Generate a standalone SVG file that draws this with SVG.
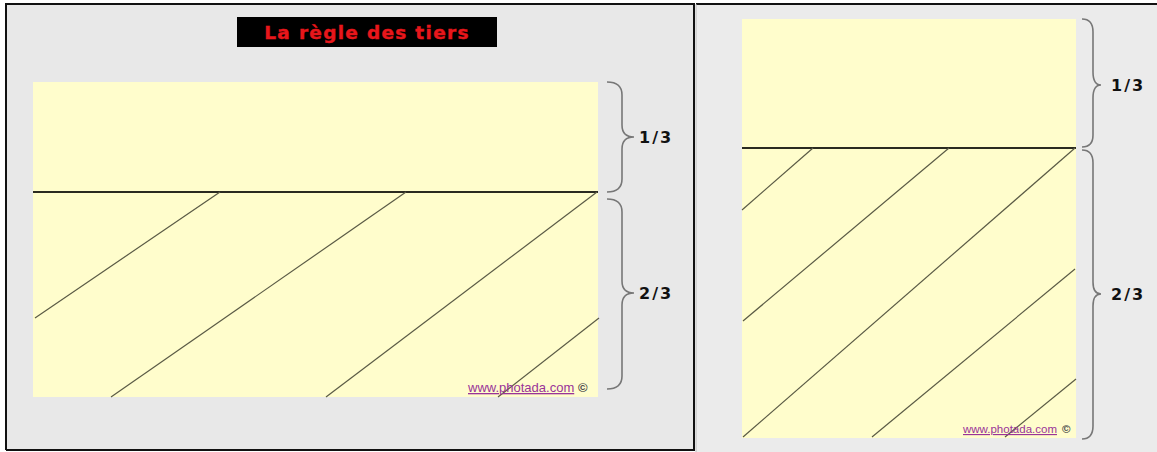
<svg xmlns="http://www.w3.org/2000/svg" width="1157" height="452" viewBox="0 0 1157 452">
<style>
.panel{fill:#e8e8e8}
.frame{fill:#fffdcc}
.rule{stroke:#2a2a20;stroke-width:2;fill:none}
.diag{stroke:#5a5a45;stroke-width:1.2;fill:none}
.brace{stroke:#777;stroke-width:1.6;fill:none}
.frac{font-family:"DejaVu Sans",Verdana,sans-serif;font-weight:bold;font-size:16px;letter-spacing:2px;fill:#111}
.wm{font-family:"Liberation Sans",Arial,sans-serif;font-size:13px;fill:#993399;text-decoration:underline}
.cp{font-family:"Liberation Sans",Arial,sans-serif;font-size:13px;font-weight:bold;fill:#444}
</style>
<rect x="0" y="0" width="1157" height="452" fill="#ffffff"/>
<g id="left-panel">
<rect class="panel" x="6" y="4" width="688" height="446"/>
<path d="M6 450 V4 H694 V450 H6" fill="none" stroke="#111" stroke-width="2"/>
</g>
<g id="right-panel">
<rect x="696" y="4" width="461" height="448" fill="#ebebeb"/>
<line x1="696" y1="4" x2="1157" y2="4" stroke="#111" stroke-width="2"/>
<line x1="696" y1="4" x2="696" y2="452" stroke="#bbb" stroke-width="1"/>
</g>
<g id="title">
<rect x="237" y="17" width="260" height="30" fill="#000"/>
<text x="367" y="39" text-anchor="middle" font-family="'DejaVu Sans',Verdana,sans-serif" font-weight="bold" font-size="18.5" letter-spacing="1.3" fill="#e8161b" stroke="#e8161b" stroke-width="0.4">La règle des tiers</text>
</g>
<g id="left-frame">
<rect class="frame" x="33" y="82" width="565" height="315"/>
<line class="rule" x1="33" y1="192" x2="598" y2="192"/>
</g>
<g id="right-frame">
<rect class="frame" x="742" y="19" width="334" height="419"/>
<line class="rule" x1="742" y1="148" x2="1076" y2="148"/>
</g>
<g id="connectors">
<line class="diag" x1="220" y1="192" x2="35" y2="318"/>
<line class="diag" x1="406" y1="192" x2="111" y2="397"/>
<line class="diag" x1="597" y1="192" x2="326" y2="397"/>
<line class="diag" x1="599" y1="318" x2="498" y2="397"/>
<line class="diag" x1="813" y1="148" x2="742" y2="210"/>
<line class="diag" x1="949" y1="148" x2="743" y2="321"/>
<line class="diag" x1="1075" y1="148" x2="743" y2="437"/>
<line class="diag" x1="1075" y1="269" x2="872" y2="437"/>
<line class="diag" x1="1076" y1="379" x2="1005" y2="437"/>
</g>
<g id="brace-left-1">
<path class="brace" d="M607 82 Q622 82 622 95 V125 Q622 137 634 137 Q622 137 622 149 V179 Q622 192 607 192"/>
<text class="frac" x="639" y="143">1/3</text>
</g>
<g id="brace-left-2">
<path class="brace" d="M607 199 Q622 199 622 212 V281 Q622 293 634 293 Q622 293 622 305 V376 Q622 389 607 389"/>
<text class="frac" x="639" y="299">2/3</text>
</g>
<g id="brace-right-1">
<path class="brace" d="M1082 19 Q1093 19 1093 32 V72 Q1093 85 1101 85 Q1093 85 1093 98 V135 Q1093 147 1082 147"/>
<text class="frac" x="1111" y="91">1/3</text>
</g>
<g id="brace-right-2">
<path class="brace" d="M1082 150 Q1093 150 1093 163 V282 Q1093 294 1101 294 Q1093 294 1093 306 V426 Q1093 439 1082 439"/>
<text class="frac" x="1111" y="300">2/3</text>
</g>
<g id="watermark-left">
<text class="wm" x="468" y="392">www.photada.com</text>
<text class="cp" x="578" y="392">©</text>
</g>
<g id="watermark-right">
<text class="wm" x="963" y="433" style="font-size:11.5px">www.photada.com</text>
<text class="cp" x="1062" y="433" style="font-size:11.5px">©</text>
</g>
</svg>
